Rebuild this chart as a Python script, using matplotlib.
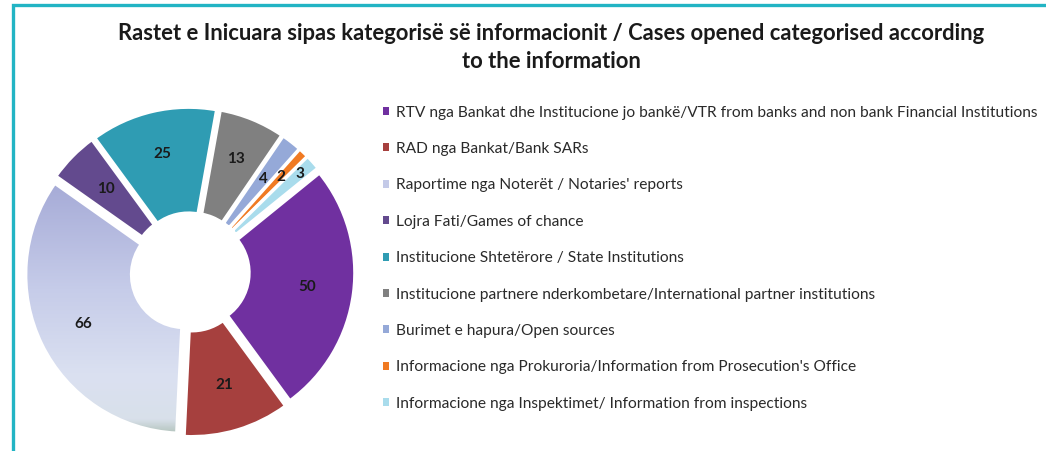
import numpy as np
import matplotlib.pyplot as plt
from matplotlib.patches import Patch, Rectangle
from matplotlib.colors import LinearSegmentedColormap

# categories (legend order = slice order, clockwise)
categories = [
    "RTV nga Bankat dhe Institucione jo bankë/VTR from banks and non bank Financial Institutions",
    "RAD nga Bankat/Bank SARs",
    "Raportime nga Noterët / Notaries' reports",
    "Lojra Fati/Games of chance",
    "Institucione Shtetërore / State Institutions",
    "Institucione partnere nderkombetare/International partner institutions",
    "Burimet e hapura/Open sources",
    "Informacione nga Prokuroria/Information from Prosecution's Office",
    "Informacione nga Inspektimet/ Information from inspections",
]
values = [50, 21, 66, 10, 25, 13, 4, 2, 3]

colors = ['#7030a0', '#a6403e', '#c4cae8', '#634a8e', '#2f9cb3',
          '#808080', '#95a9d8', '#f07a22', '#a9dcec']
# radial position of each value label (fraction of radius)
label_r = [0.70, 0.70, 0.70, 0.70, 0.72, 0.72, 0.70, 0.78, 0.88]

title_line1 = "Rastet e Inicuara sipas kategorisë së informacionit / Cases opened categorised according"
title_line2 = "to the information"

plt.rcParams['font.family'] = ['Lato', 'DejaVu Sans']

fig = plt.figure(figsize=(10.46, 4.51), dpi=100)

# teal frame, open to the right and bottom
fig.patches.append(Rectangle((13 / 1046, -0.2), 1.2, 1.2 - 5 / 451,
                             transform=fig.transFigure, fill=False,
                             edgecolor='#22b4c4', linewidth=2.4))

ax = fig.add_axes([0.01338, 0.00665, 0.3365, 0.7805])
wedges, _ = ax.pie(values, colors=colors, startangle=39, counterclock=False,
                   radius=0.99, explode=[0.04] * len(values),
                   wedgeprops=dict(width=0.66, edgecolor='white', linewidth=2.2))

# soft vertical gradient on the notaries slice
lav = LinearSegmentedColormap.from_list(
    'lav', [(0, '#a3a8d4'), (0.25, '#a6abd7'), (0.55, '#c6cce9'),
            (0.8, '#dbe1f1'), (0.92, '#d8e0ea'), (1.0, '#8ea78e')])
grad = np.linspace(0, 1, 256).reshape(-1, 1)
im = ax.imshow(grad, cmap=lav, extent=[-1.1, 1.1, -1.1, 1.1],
               origin='upper', aspect='auto', zorder=0.5)
im.set_clip_path(wedges[2])
wedges[2].set_facecolor('none')
ax.set_xlim(-1.1, 1.1)
ax.set_ylim(-1.1, 1.1)

for w, v, r in zip(wedges, values, label_r):
    ang = np.deg2rad((w.theta1 + w.theta2) / 2)
    cx, cy = w.center
    ax.text(cx + r * np.cos(ang), cy + r * np.sin(ang), str(v),
            ha='center', va='center', fontsize=11, fontweight='bold',
            color='#1a1a1a', zorder=3)

handles = [Patch(facecolor=c, edgecolor='none') for c in colors]
fig.legend(handles, categories, loc='upper left', bbox_to_anchor=(0.366, 0.766),
           frameon=False, fontsize=11.2, handlelength=0.42, handleheight=0.42,
           handletextpad=0.4, labelspacing=1.44, borderpad=0, borderaxespad=0,
           labelcolor='#2a2a2a')

fig.text(0.527, 1 - 33 / 451, title_line1, ha='center', va='center',
         fontsize=15.8, fontweight='bold', color='#1a1a1a')
fig.text(0.527, 1 - 62 / 451, title_line2, ha='center', va='center',
         fontsize=15.8, fontweight='bold', color='#1a1a1a')

fig.savefig('out.png', dpi=100, facecolor='white')
